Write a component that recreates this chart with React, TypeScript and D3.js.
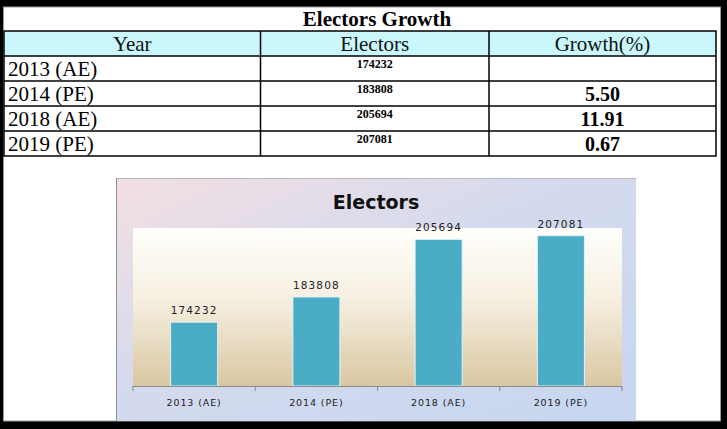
import React from "react";
import * as d3 from "d3";

const categories = ["2013 (AE)", "2014 (PE)", "2018 (AE)", "2019 (PE)"];
const electors = [174232, 183808, 205694, 207081];
const growth: (number | null)[] = [null, 5.5, 11.91, 0.67];
const headers = ["Year", "Electors", "Growth(%)"];
const tableTitle = "Electors Growth";
const chartTitle = "Electors";
const yDomain = [150000, 210000];

const W = 727;
const H = 429;

export default function App() {
  // table geometry
  const colX = [4, 260.5, 489, 716];
  const rowY = d3.range(6).map((i) => 31 + i * 25);
  // chart geometry
  const plot = { left: 133, right: 622, top: 228, bottom: 386 };
  const x = d3
    .scaleBand<string>()
    .domain(categories)
    .range([plot.left, plot.right])
    .paddingInner(0.615)
    .paddingOuter(0.3075);
  const y = d3.scaleLinear().domain(yDomain).range([plot.bottom, plot.top]);
  const bandStep = (plot.right - plot.left) / categories.length;
  const serif = "'Liberation Serif', 'Times New Roman', serif";
  const sans = "'DejaVu Sans', Verdana, sans-serif";

  return (
    <svg
      width={W}
      height={H}
      style={{ position: "absolute", left: 0, top: 0, display: "block" }}
    >
      <defs>
        <linearGradient id="bgGrad" x1="0" y1="0" x2="1" y2="1">
          <stop offset="0" stopColor="#f3dfe2" />
          <stop offset="0.45" stopColor="#d4daee" />
          <stop offset="1" stopColor="#c6d6ef" />
        </linearGradient>
        <linearGradient id="plotGrad" x1="0" y1="0" x2="0" y2="1">
          <stop offset="0" stopColor="#fffffb" />
          <stop offset="0.45" stopColor="#f6efe1" />
          <stop offset="1" stopColor="#d9c7a2" />
        </linearGradient>
      </defs>
      <rect x={0} y={0} width={W} height={H} fill="#000" />
      <rect x={3.5} y={7} width={717} height={414} fill="#fff" stroke="#9a9a9a" strokeWidth={1} />

      {/* table title */}
      <text x={377} y={26} textAnchor="middle" fontFamily={serif} fontWeight="bold" fontSize={21} fill="#000">
        {tableTitle}
      </text>

      {/* header fill */}
      <rect x={colX[0]} y={rowY[0]} width={colX[3] - colX[0]} height={25} fill="#c9f7fb" />
      {headers.map((h, i) => (
        <text
          key={h}
          x={(colX[i] + colX[i + 1]) / 2}
          y={rowY[0] + 20}
          textAnchor="middle"
          fontFamily={serif}
          fontSize={21}
          fill="#111"
        >
          {h}
        </text>
      ))}
      {categories.map((c, i) => (
        <g key={c}>
          <text x={8} y={rowY[i + 1] + 20} fontFamily={serif} fontSize={21} fill="#000">
            {c}
          </text>
          <text
            x={(colX[1] + colX[2]) / 2}
            y={rowY[i + 1] + 12}
            textAnchor="middle"
            fontFamily={serif}
            fontWeight="bold"
            fontSize={12}
            fill="#000"
          >
            {electors[i]}
          </text>
          {growth[i] !== null && (
            <text
              x={(colX[2] + colX[3]) / 2}
              y={rowY[i + 1] + 20}
              textAnchor="middle"
              fontFamily={serif}
              fontWeight="bold"
              fontSize={20}
              fill="#000"
            >
              {d3.format(".2f")(growth[i] as number)}
            </text>
          )}
        </g>
      ))}
      {/* table grid */}
      <g stroke="#000" strokeWidth={1.5} fill="none">
        <rect x={colX[0]} y={rowY[0]} width={colX[3] - colX[0]} height={rowY[5] - rowY[0]} />
        {rowY.slice(1, 5).map((ry) => (
          <line key={ry} x1={colX[0]} x2={colX[3]} y1={ry} y2={ry} />
        ))}
        {colX.slice(1, 3).map((cx) => (
          <line key={cx} x1={cx} x2={cx} y1={rowY[0]} y2={rowY[5]} />
        ))}
      </g>

      {/* chart */}
      <rect x={116} y={178} width={520} height={243} fill="url(#bgGrad)" />
      <line x1={116} x2={636} y1={178.5} y2={178.5} stroke="#b8b8bc" />
      <line x1={116.5} x2={116.5} y1={178} y2={421} stroke="#8e8e94" />
      <text x={376} y={209} textAnchor="middle" fontFamily={sans} fontWeight="bold" fontSize={19} fill="#111">
        {chartTitle}
      </text>
      <rect
        x={plot.left}
        y={plot.top}
        width={plot.right - plot.left}
        height={plot.bottom - plot.top}
        fill="url(#plotGrad)"
      />
      {categories.map((c, i) => (
        <g key={c}>
          <rect
            x={x(c)}
            y={y(electors[i])}
            width={x.bandwidth()}
            height={plot.bottom - y(electors[i])}
            fill="#4bacc6"
            stroke="#e3f3f7"
            strokeWidth={1}
          />
          <text
            x={(x(c) as number) + x.bandwidth() / 2}
            y={y(electors[i]) - 8}
            textAnchor="middle"
            fontFamily={sans}
            fontSize={10.5}
            letterSpacing={1.1}
            fill="#222"
          >
            {electors[i]}
          </text>
          <text
            x={(x(c) as number) + x.bandwidth() / 2}
            y={406}
            textAnchor="middle"
            fontFamily={sans}
            fontSize={9.5}
            letterSpacing={0.9}
            fill="#222"
          >
            {c}
          </text>
        </g>
      ))}
      <line x1={plot.left} x2={plot.right} y1={plot.bottom + 0.5} y2={plot.bottom + 0.5} stroke="#8a8a8a" />
      {d3.range(categories.length + 1).map((i) => (
        <line
          key={i}
          x1={plot.left + i * bandStep}
          x2={plot.left + i * bandStep}
          y1={plot.bottom}
          y2={plot.bottom + 5}
          stroke="#8a8a8a"
        />
      ))}
    </svg>
  );
}
